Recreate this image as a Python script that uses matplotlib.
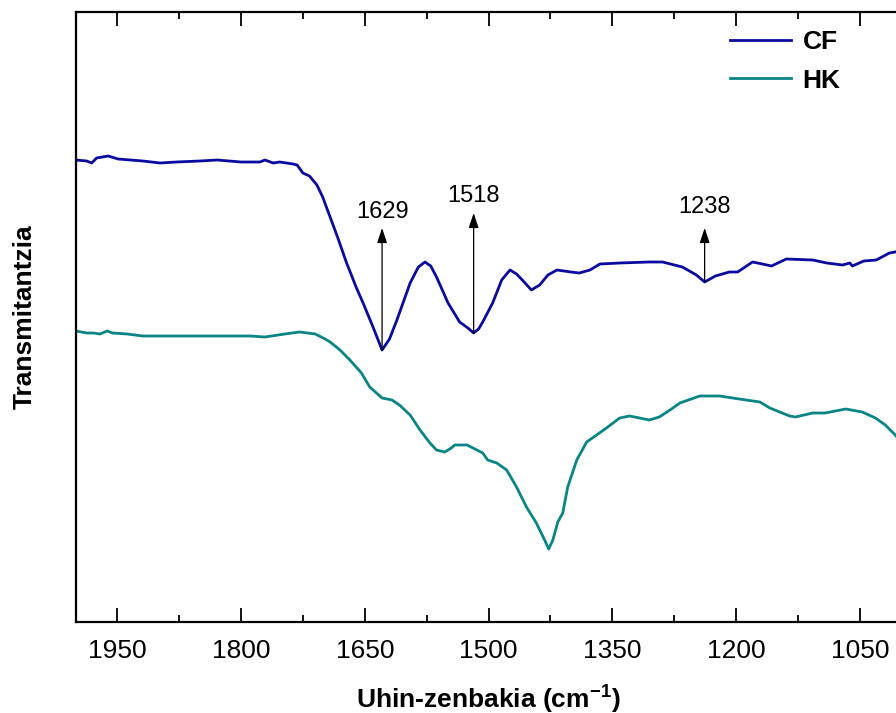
import matplotlib
matplotlib.use("Agg")
import matplotlib.pyplot as plt
from matplotlib.ticker import MultipleLocator, NullLocator

plt.rcParams['font.family'] = ['Liberation Sans', 'DejaVu Sans']

# CF spectrum (wavenumber, transmittance a.u.)
cf_wn = [2000, 1987, 1981, 1975, 1961, 1949, 1934, 1919, 1898, 1878, 1850, 1829,
         1800, 1777, 1771, 1761, 1753, 1737, 1732, 1725, 1717, 1708, 1701, 1692,
         1683, 1672, 1660, 1652, 1640, 1629, 1620, 1611, 1595, 1585, 1577, 1570,
         1563, 1549, 1535, 1525, 1518, 1512, 1507, 1495, 1484, 1474, 1466, 1459,
         1448, 1438, 1428, 1417, 1400, 1390, 1377, 1365, 1341, 1305, 1289, 1265,
         1248, 1238, 1225, 1208, 1198, 1180, 1168, 1157, 1139, 1107, 1090, 1071,
         1062, 1059, 1045, 1030, 1014, 1007, 1000]
cf_t = [462, 461, 459, 464, 466, 463, 462, 461, 459, 460, 461, 462,
        460, 460, 462, 459, 460, 458, 457, 449, 446, 437, 425, 405,
        385, 359, 334, 319, 295, 272, 283, 302, 339, 355, 360, 356,
        345, 319, 300, 294, 289, 293, 300, 319, 342, 352, 348, 342,
        332, 337, 347, 352, 350, 349, 352, 358, 359, 360, 360, 355,
        347, 340, 346, 350, 350, 360, 358, 356, 363, 362, 359, 357,
        359, 356, 361, 362, 369, 370, 372]

# HK spectrum
hk_wn = [2000, 1987, 1979, 1971, 1962, 1956, 1938, 1919, 1898, 1850, 1789, 1771,
         1747, 1729, 1710, 1698, 1692, 1680, 1668, 1654, 1644, 1629, 1617, 1608,
         1595, 1583, 1571, 1563, 1553, 1545, 1541, 1526, 1514, 1507, 1501, 1490,
         1478, 1466, 1454, 1442, 1432, 1427, 1422, 1416, 1410, 1404, 1393, 1381,
         1369, 1357, 1341, 1329, 1317, 1305, 1293, 1280, 1268, 1244, 1220, 1196,
         1171, 1159, 1135, 1128, 1107, 1092, 1067, 1047, 1031, 1019, 1007, 1000]
hk_t = [291, 289, 289, 288, 291, 289, 288, 286, 286, 286, 286, 285,
        288, 290, 288, 283, 280, 272, 262, 249, 235, 224, 222, 217,
        207, 192, 179, 172, 170, 174, 177, 177, 172, 169, 162, 159,
        152, 135, 115, 99, 82, 73, 82, 100, 109, 135, 162, 180,
        187, 194, 204, 206, 204, 202, 205, 212, 219, 226, 226, 223,
        220, 214, 206, 205, 209, 209, 213, 210, 204, 197, 187, 180]

# Peak annotations: wavenumber, curve minimum, arrow tip, label height
peak_wn = [1629, 1518, 1238]
peak_base = [272, 289, 340]
peak_tip = [394, 409, 394]
peak_text = [410, 426, 415]
peak_labels = ['1629', '1518', '1238']

fig = plt.figure(figsize=(8.96, 7.13), dpi=100)
W, H = 896, 713
left, right, top, bottom = 76, 901, 12, 622
ax = fig.add_axes([left / W, 1 - bottom / H, (right - left) / W, (bottom - top) / H])

ax.plot(cf_wn, cf_t, color='#0a0aa0', lw=2.0, label='CF')
ax.plot(hk_wn, hk_t, color='#0a8585', lw=2.0, label='HK')

for w, b, t, ty, lab in zip(peak_wn, peak_base, peak_tip, peak_text, peak_labels):
    ax.annotate('', xy=(w, t), xytext=(w, b),
                arrowprops=dict(arrowstyle='-|>,head_length=0.9,head_width=0.3',
                                lw=0.9, color='black', shrinkA=0, shrinkB=0))
    ax.text(w, ty, lab, ha='center', va='center', fontsize=17, color='black')

ax.set_xlim(2000, 1000)
ax.set_ylim(0, 610)
ax.xaxis.set_minor_locator(MultipleLocator(75))
ax.set_xticks([1950, 1800, 1650, 1500, 1350, 1200, 1050])
ax.yaxis.set_major_locator(NullLocator())
ax.yaxis.set_minor_locator(NullLocator())
ax.tick_params(axis='x', which='both', direction='in', top=True, bottom=True,
               labelsize=19, pad=12, width=1.3)
ax.tick_params(axis='x', which='major', length=10)
ax.tick_params(axis='x', which='minor', length=5)
for s in ax.spines.values():
    s.set_linewidth(1.6)

ax.set_xlabel('Uhin-zenbakia (cm$^{\\mathregular{-1}}$)', fontsize=19, fontweight='bold')
ax.set_ylabel('Transmitantzia', fontsize=19, fontweight='bold')
ax.xaxis.set_label_coords(0.5, -0.098)
ax.yaxis.set_label_coords(-0.047, 0.5)

ax.legend(loc='upper left', bbox_to_anchor=((730 - left) / (right - left), 1 - (30 - top) / (bottom - top)),
          frameon=False, prop={'size': 19, 'weight': 'bold'},
          handlelength=2.3, handletextpad=0.45, labelspacing=0.55, borderaxespad=0, borderpad=0)

fig.savefig('out.png', dpi=100)
